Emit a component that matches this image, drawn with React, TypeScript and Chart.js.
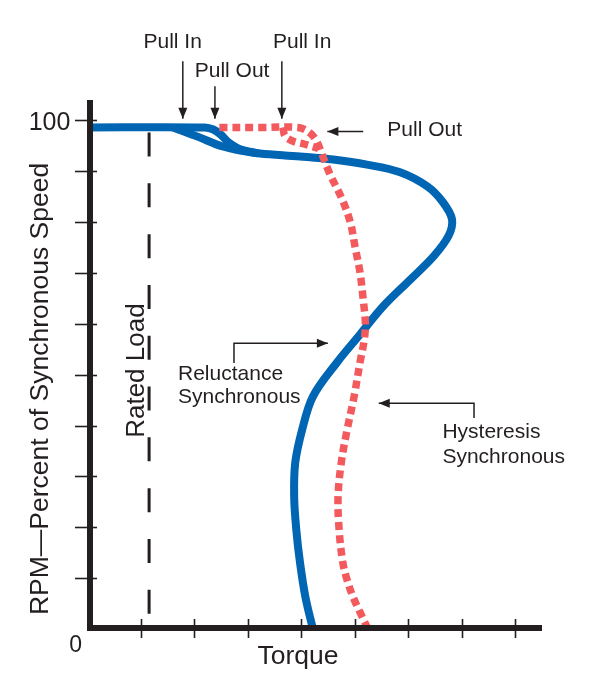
import { useEffect, useRef } from 'react';
import { Chart, registerables } from 'chart.js';

Chart.register(...registerables);

// Axis tick values
const xTickValues = [1, 2, 3, 4, 5, 6, 7, 8];
const yTickValues = [10, 20, 30, 40, 50, 60, 70, 80, 90, 100];
const yTickLabelTop = '100';
const yTickLabelZero = '0';

// Reluctance synchronous (blue) – main curve, from standstill up to pull-in
const relMainTorque = [4.22, 4.08, 3.98, 3.91, 3.87, 3.89, 4.02, 4.22, 4.67, 5.1, 5.53, 6.04, 6.47, 6.75, 6.82, 6.65, 6.36, 5.85, 5.23, 4.6, 3.98, 3.23, 2.95, 2.52, 2.09, 1.61];
const relMainSpeed = [0, 6.3, 13.0, 19.5, 26.0, 32.7, 39.2, 45.7, 52.4, 57.9, 63.4, 68.7, 73.2, 77.2, 80.5, 83.9, 87.0, 89.8, 91.3, 92.3, 92.9, 93.5, 93.9, 94.9, 96.7, 98.6];
// Reluctance synchronous – synchronous run and pull-out branch
const relPullOutTorque = [0, 2.2, 2.36, 2.5, 2.64, 2.86, 3.2];
const relPullOutSpeed = [98.6, 98.6, 98.2, 97.2, 95.7, 94.3, 93.5];

// Hysteresis synchronous (red dotted) – main curve
const hysMainTorque = [5.25, 5.1, 4.97, 4.86, 4.78, 4.71, 4.69, 4.75, 4.86, 4.99, 5.1, 5.18, 5.2, 5.16, 5.1, 5.01, 4.92, 4.77, 4.54, 4.39, 4.28, 4.13, 3.94, 3.23, 2.45];
const hysMainSpeed = [0, 3.3, 6.3, 9.6, 13.0, 19.5, 26.0, 32.7, 39.2, 45.7, 52.4, 56.9, 60.2, 64.8, 70.1, 75.0, 79.9, 84.4, 89.4, 93.3, 96.1, 97.8, 98.6, 98.6, 98.6];
// Hysteresis synchronous – pull-in branch
const hysPullInTorque = [3.66, 3.7, 3.85, 4.07, 4.32];
const hysPullInSpeed = [98.6, 96.9, 95.9, 95.3, 94.5];

// Rated load line
const ratedLoadTorque = [1.16, 1.16];
const ratedLoadSpeed = [97.6, 2.6];

const toPoints = (xs: number[], ys: number[]) => xs.map((x, i) => ({ x, y: ys[i] }));

const INK = '#231f20';
const BLUE = '#0066b3';
const RED = '#f25a5e';
const FONT = '"Liberation Sans", Arial, Helvetica, sans-serif';

const annotationPlugin = {
  id: 'annotations',
  afterDatasetsDraw(chart: any) {
    const ctx: CanvasRenderingContext2D = chart.ctx;
    const xs = chart.scales.x;
    const ys = chart.scales.y;
    const X = (v: number) => xs.getPixelForValue(v);
    const Y = (v: number) => ys.getPixelForValue(v);
    ctx.save();
    ctx.strokeStyle = INK;
    ctx.fillStyle = INK;

    // axes
    const x0 = X(0);
    const yBottom = Y(0);
    ctx.lineCap = 'butt';
    ctx.lineWidth = 6;
    ctx.beginPath();
    ctx.moveTo(x0 + 3, Y(104));
    ctx.lineTo(x0 + 3, yBottom + 2);
    ctx.stroke();
    ctx.beginPath();
    ctx.moveTo(x0, yBottom - 1);
    ctx.lineTo(X(8.5), yBottom - 1);
    ctx.stroke();

    // ticks
    ctx.lineWidth = 1.6;
    yTickValues.forEach((v) => {
      const y = Math.round(Y(v)) + 0.5;
      ctx.beginPath();
      ctx.moveTo(x0 - 12, y);
      ctx.lineTo(x0 + 10, y);
      ctx.stroke();
    });
    xTickValues.forEach((v) => {
      const x = Math.round(X(v)) + 0.5;
      ctx.beginPath();
      ctx.moveTo(x, yBottom - 10);
      ctx.lineTo(x, yBottom + 9);
      ctx.stroke();
    });

    // axis labels
    ctx.font = `25px ${FONT}`;
    ctx.textAlign = 'right';
    ctx.textBaseline = 'alphabetic';
    ctx.fillText(yTickLabelTop, X(-0.31), Y(98.1));
    ctx.font = `23px ${FONT}`;
    ctx.textAlign = 'center';
    ctx.fillText(yTickLabelZero, X(-0.21), Y(-4.5));
    ctx.font = `26.5px ${FONT}`;
    ctx.fillText('Torque', X(3.94), Y(-6.9));

    // rotated texts
    const rot = (text: string, px: number, py: number) => {
      ctx.save();
      ctx.translate(px, py);
      ctx.rotate(-Math.PI / 2);
      ctx.textAlign = 'center';
      ctx.textBaseline = 'alphabetic';
      ctx.fillText(text, 0, 0);
      ctx.restore();
    };
    ctx.font = `26.5px ${FONT}`;
    rot('RPM\u2014Percent of Synchronous Speed', 48, Y(47.2));
    ctx.font = `26px ${FONT}`;
    rot('Rated Load', X(1.06), Y(50.8));

    // arrows
    const arrow = (pts: [number, number][]) => {
      ctx.lineWidth = 1.5;
      ctx.beginPath();
      pts.forEach(([vx, vy], i) => {
        const px = X(vx);
        const py = Y(vy);
        if (i === 0) ctx.moveTo(px, py);
        else ctx.lineTo(px, py);
      });
      ctx.stroke();
      const [ax, ay] = pts[pts.length - 2];
      const [bx, by] = pts[pts.length - 1];
      const x1 = X(ax), y1 = Y(ay), x2 = X(bx), y2 = Y(by);
      const ang = Math.atan2(y2 - y1, x2 - x1);
      const hl = 11;
      const hw = 4.5;
      ctx.beginPath();
      ctx.moveTo(x2, y2);
      ctx.lineTo(x2 - hl * Math.cos(ang) + hw * Math.sin(ang), y2 - hl * Math.sin(ang) - hw * Math.cos(ang));
      ctx.lineTo(x2 - hl * Math.cos(ang) - hw * Math.sin(ang), y2 - hl * Math.sin(ang) + hw * Math.cos(ang));
      ctx.closePath();
      ctx.fill();
    };
    arrow([[1.79, 111.6], [1.79, 100.3]]);
    arrow([[2.39, 106.7], [2.39, 100.3]]);
    arrow([[3.64, 111.6], [3.64, 100.3]]);
    arrow([[5.16, 97.8], [4.49, 97.8]]);
    arrow([[2.746, 52.3], [2.746, 56.2], [4.5, 56.2]]);
    arrow([[7.23, 41.5], [7.23, 44.4], [5.45, 44.4]]);

    // labels
    ctx.font = `21px ${FONT}`;
    ctx.textBaseline = 'alphabetic';
    ctx.textAlign = 'center';
    ctx.fillText('Pull In', X(1.6), Y(114.2));
    ctx.fillText('Pull Out', X(2.71), Y(108.5));
    ctx.fillText('Pull In', X(4.02), Y(114.2));
    ctx.textAlign = 'left';
    ctx.fillText('Pull Out', X(5.61), Y(96.9));
    ctx.fillText('Reluctance', X(1.7), Y(49.0));
    ctx.fillText('Synchronous', X(1.7), Y(44.5));
    ctx.fillText('Hysteresis', X(6.64), Y(37.6));
    ctx.fillText('Synchronous', X(6.64), Y(32.7));

    ctx.restore();
  },
};

const redStyle = {
  showLine: true,
  borderColor: RED,
  borderWidth: 7.5,
  borderDash: [8, 5],
  borderCapStyle: 'butt',
  pointRadius: 0,
  tension: 0.35,
  fill: false,
  clip: false,
};

const blueStyle = {
  showLine: true,
  borderColor: BLUE,
  borderWidth: 8,
  borderCapStyle: 'butt',
  borderJoinStyle: 'round',
  pointRadius: 0,
  tension: 0.35,
  fill: false,
  clip: false,
};

export default function App() {
  const ref = useRef<HTMLCanvasElement>(null);
  useEffect(() => {
    document.body.style.margin = '0';
    const canvas = ref.current!;
    const chart = new Chart(canvas, {
      type: 'scatter',
      data: {
        datasets: [
          { label: 'Hysteresis Synchronous', data: toPoints(hysMainTorque, hysMainSpeed), ...redStyle } as any,
          { label: 'Hysteresis Pull In', data: toPoints(hysPullInTorque, hysPullInSpeed), ...redStyle } as any,
          { label: 'Reluctance Synchronous', data: toPoints(relMainTorque, relMainSpeed), ...blueStyle } as any,
          { label: 'Reluctance Pull Out', data: toPoints(relPullOutTorque, relPullOutSpeed), ...blueStyle, tension: 0.3 } as any,
          {
            label: 'Rated Load',
            data: toPoints(ratedLoadTorque, ratedLoadSpeed),
            showLine: true,
            borderColor: INK,
            borderWidth: 3,
            borderDash: [24, 26.8],
            borderCapStyle: 'butt',
            pointRadius: 0,
            tension: 0,
            fill: false,
            clip: false,
          } as any,
        ],
      },
      options: {
        responsive: false,
        animation: false,
        layout: { padding: { left: 87, right: 58, top: 100, bottom: 70 } },
        scales: {
          x: { type: 'linear', min: 0, max: 8.5, display: false },
          y: { type: 'linear', min: 0, max: 104, display: false },
        },
        plugins: {
          legend: { display: false },
          tooltip: { enabled: false },
        },
        events: [],
      },
      plugins: [annotationPlugin],
    });
    return () => chart.destroy();
  }, []);
  return (
    <div style={{ width: 600, height: 699, background: '#ffffff' }}>
      <canvas ref={ref} width={600} height={699} style={{ display: 'block' }} />
    </div>
  );
}
